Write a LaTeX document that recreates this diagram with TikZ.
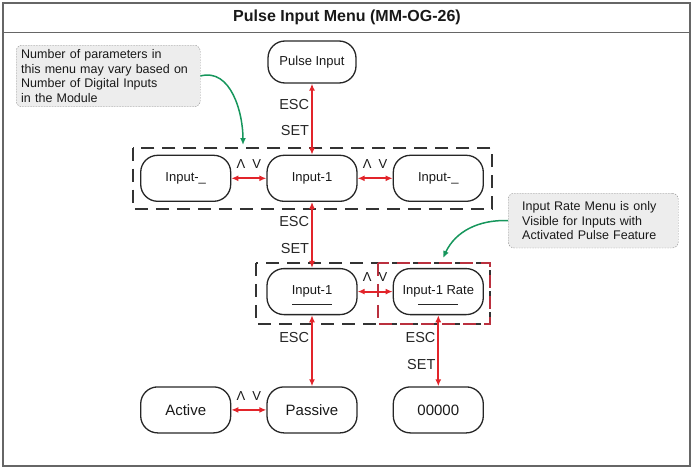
\documentclass[tikz,border=0pt]{standalone}
\usepackage{fontspec}
\setmainfont{Liberation Sans}
\usetikzlibrary{positioning,arrows.meta}
\definecolor{navred}{RGB}{226,36,42}
\definecolor{hintgreen}{RGB}{22,150,92}
\definecolor{grpred}{RGB}{186,48,62}

\begin{document}
\begin{tikzpicture}[x=1pt, y=1pt, node distance=71pt and 35pt, >={Latex[length=7pt,width=6pt]},
  menu/.style={draw=black!85, line width=1.3pt, rounded corners=17pt, minimum width=90pt, minimum height=46pt, inner sep=2pt, text=black!90, font=\fontsize{13}{15}\selectfont},
  big/.style={font=\fontsize{15}{17}\selectfont},
  nav/.style={<->, draw=navred, line width=1.8pt},
  keylabel/.style={left, inner sep=2pt, text=black!85, font=\fontsize{14.5}{16}\selectfont},
  updown/.style={above=8pt, inner sep=1pt, text=black!90, font=\fontsize{13}{15}\selectfont},
  grp/.style={draw=black!80, line width=1.8pt, dash pattern=on 13pt off 8pt},
  note/.style={draw=black!45, fill=black!7, dash pattern=on 1.5pt off 1.2pt, rounded corners=6pt, align=left, text=black!90, font=\fontsize{12.5}{14.8}\selectfont},
  hint/.style={->, draw=hintgreen, line width=1.5pt}
]
\useasboundingbox (0,0) rectangle (694,-471);

% Frame and title
\draw[draw=black!60, line width=1.5pt] (3,-3) rectangle (690,-466);
\draw[draw=black!60, line width=1pt] (3,-32) -- (690,-32);
\node[font=\bfseries\fontsize{16}{18}\selectfont, text=black!90] (title) at (347,-17) {Pulse Input Menu (MM-OG-26)};

% Nodes
\node[menu, minimum width=88pt, minimum height=42pt] (pulse) at (312,-62) {Pulse Input};
\node[menu, below=of pulse] (inp) {Input-1};
\node[menu, left=of inp] (inl) {Input-\_};
\node[menu, right=of inp] (inr) {Input-\_};

\node[menu, below=66pt of inp] (inpB) {Input-1};
\node[menu, right=of inpB] (rate) {Input-1 Rate};
\draw[line width=1.3pt, black!85] ([xshift=-20pt, yshift=-13pt]inpB.center) -- ++(40pt,0pt);
\draw[line width=1.3pt, black!85] ([xshift=-20pt, yshift=-13pt]rate.center) -- ++(40pt,0pt);

\node[menu, big, below=of inpB] (passive) {Passive};
\node[menu, big, left=of passive] (active) {Active};
\node[menu, big, right=of passive] (zero) {00000};

% Groups
\draw[grp] ([shift={(-7pt,7pt)}]inl.north west) rectangle ([shift={(8pt,-7pt)}]inr.south east);
\draw[grp] ([shift={(-10pt,5pt)}]inpB.north west) rectangle ([shift={(6pt,-9pt)}]rate.south east);
\draw[grp, draw=grpred] ([shift={(-15pt,5pt)}]rate.north west) rectangle ([shift={(6pt,-9pt)}]rate.south east);

% Notes
\node[note, anchor=north west, inner xsep=5pt, inner ysep=4pt, text width=174pt] (note1) at (16,-45) {Number of parameters in\\this menu may vary based on\\Number of Digital Inputs\\in the Module};
\node[note, anchor=north west, inner xsep=14pt, inner ysep=8pt, text width=142pt] (note2) at (508,-193) {Input Rate Menu is only\\Visible for Inputs with\\Activated Pulse Feature};

% Arrows
\draw[nav] (pulse) -- (inp) node[keylabel, pos=0.3] {ESC} node[keylabel, pos=0.66] {SET};
\draw[nav] (inp) -- (inpB) node[keylabel, pos=0.3] {ESC} node[keylabel, pos=0.7] {SET};
\draw[nav] (inpB) -- (passive) node[keylabel, pos=0.31] {ESC};
\draw[nav] (rate) -- (zero) node[keylabel, pos=0.31] {ESC} node[keylabel, pos=0.69] {SET};

\draw[nav] (inl) -- (inp) node[updown, midway] {Λ\hspace{7pt}V};
\draw[nav] (inp) -- (inr) node[updown, midway] {Λ\hspace{7pt}V};
\draw[nav] (inpB) -- (rate) node[updown, midway] {Λ\hspace{7pt}V};
\draw[nav] (active) -- (passive) node[updown, midway] {Λ\hspace{7pt}V};

\coordinate (tipA) at (243,-145);
\coordinate (tipB) at (443,-258);
\draw[hint] (note1.east) to[out=15, in=90] (tipA);
\draw[hint] (note2.west) to[out=178, in=65] (tipB);

\end{tikzpicture}
\end{document}
